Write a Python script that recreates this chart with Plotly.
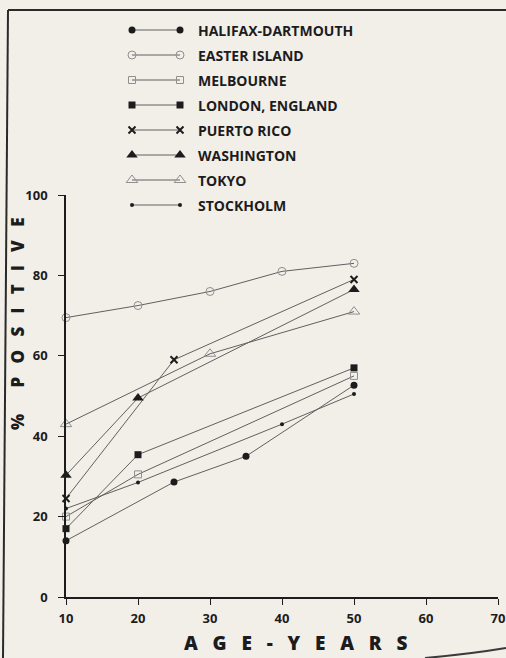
import plotly.graph_objects as go

# ---------------- data ----------------
series_names = ["HALIFAX-DARTMOUTH", "EASTER ISLAND", "MELBOURNE", "LONDON, ENGLAND",
                "PUERTO RICO", "WASHINGTON", "TOKYO", "STOCKHOLM"]

halifax_age = [10, 25, 35, 50]
halifax_pct = [14, 28.6, 35, 52.7]

easter_age = [10, 20, 30, 40, 50]
easter_pct = [69.5, 72.5, 76, 81, 83]

melbourne_age = [10, 20, 50]
melbourne_pct = [20, 30.5, 55]

london_age = [10, 20, 50]
london_pct = [17, 35.4, 57]

puerto_age = [10, 25, 50]
puerto_pct = [24.5, 59, 79]

washington_age = [10, 20, 50]
washington_pct = [30.3, 49.5, 76.5]

tokyo_age = [10, 30, 50]
tokyo_pct = [43, 60.5, 71]

stockholm_age = [10, 20, 40, 50]
stockholm_pct = [22, 28.5, 43, 50.5]

x_ticks = [10, 20, 30, 40, 50, 60, 70]
y_ticks = [0, 20, 40, 60, 80, 100]

# ---------------- styles ----------------
W, H = 506, 658
PAPER = "#f2efe9"
INK = "#1c1c1c"
LINE = "#606060"
OPEN_EDGE = "#8f8f8f"
FONT = "Open Sans"

styles = [
    dict(symbol="circle", size=7, color=INK, line=dict(width=0)),
    dict(symbol="circle-open", size=8, color=OPEN_EDGE, line=dict(width=1)),
    dict(symbol="square-open", size=7, color=OPEN_EDGE, line=dict(width=1)),
    dict(symbol="square", size=7, color=INK, line=dict(width=0)),
    dict(symbol="x-thin-open", size=7, color=INK, line=dict(width=2, color=INK)),
    dict(symbol="triangle-up", size=10, color=INK, line=dict(width=0)),
    dict(symbol="triangle-up-open", size=10, color=OPEN_EDGE, line=dict(width=1)),
    dict(symbol="circle", size=4, color=INK, line=dict(width=0)),
]

series = [
    (halifax_age, halifax_pct), (easter_age, easter_pct), (melbourne_age, melbourne_pct),
    (london_age, london_pct), (puerto_age, puerto_pct), (washington_age, washington_pct),
    (tokyo_age, tokyo_pct), (stockholm_age, stockholm_pct),
]

fig = go.Figure()

for name, (ages, pcts), st in zip(series_names, series, styles):
    fig.add_trace(go.Scatter(
        x=ages, y=pcts, mode="lines+markers", name=name,
        line=dict(color=LINE, width=1),
        marker=st, cliponaxis=False, showlegend=False,
        xaxis="x", yaxis="y",
    ))

# ---------------- hand-made legend (pixel overlay axes) ----------------
row0, row_step = 30, 25
key_left, key_right, text_x = 132, 180, 196
annotations = []
for i, (name, st) in enumerate(zip(series_names, styles)):
    ry = row0 + row_step * i
    fig.add_trace(go.Scatter(
        x=[key_left, key_right], y=[ry, ry], mode="lines+markers",
        line=dict(color=LINE, width=1), marker=st,
        cliponaxis=False, showlegend=False, hoverinfo="skip",
        xaxis="x2", yaxis="y2",
    ))
    annotations.append(dict(
        x=text_x, y=ry, xref="x2", yref="y2", text=name, showarrow=False,
        xanchor="left", yanchor="middle",
        font=dict(family=FONT, size=14, color=INK, weight=700),
    ))

NB = "\u00a0"
y_title = "%" + NB * 6 + (NB * 3).join(list("POSITIVE"))
x_title = (NB * 3).join(["A", "G", "E", "-", "Y", "E", "A", "R", "S"])

annotations.append(dict(
    x=17, y=324, xref="x2", yref="y2", text=y_title, textangle=-90,
    showarrow=False, xanchor="center", yanchor="middle",
    font=dict(family=FONT, size=17, color=INK, weight=800),
))
annotations.append(dict(
    x=295, y=643, xref="x2", yref="y2", text=x_title,
    showarrow=False, xanchor="center", yanchor="middle",
    font=dict(family=FONT, size=19, color=INK, weight=800),
))

# page frame lines of the scanned sheet
shapes = [
    dict(type="line", xref="x2", yref="y2", x0=8, y0=10, x1=3, y1=658,
         line=dict(color="#2a2a2a", width=2)),
    dict(type="line", xref="x2", yref="y2", x0=8, y0=10, x1=506, y1=10,
         line=dict(color="#2a2a2a", width=2)),
    dict(type="path", xref="x2", yref="y2", path="M 425 658 Q 470 654 506 648",
         line=dict(color="#3a3a3a", width=2)),
]

tickfont = dict(family=FONT, size=13, color=INK, weight=700)

fig.update_layout(
    width=W, height=H,
    margin=dict(l=0, r=0, t=0, b=0, autoexpand=False),
    paper_bgcolor=PAPER, plot_bgcolor="rgba(0,0,0,0)",
    showlegend=False,
    xaxis=dict(domain=[66 / W, 498 / W], range=[10, 70], tickvals=x_ticks,
               showline=True, linecolor=INK, linewidth=1.5, showgrid=False,
               zeroline=False, ticks="outside", ticklen=6, tickwidth=1,
               tickcolor=INK, tickfont=tickfont, anchor="y", ticklabelstandoff=3,
               automargin=False),
    yaxis=dict(domain=[(H - 597) / H, (H - 195) / H], range=[0, 100], tickvals=y_ticks,
               showline=True, linecolor=INK, linewidth=1.5, showgrid=False,
               zeroline=False, ticks="outside", ticklen=6, tickwidth=1,
               tickcolor=INK, tickfont=tickfont, anchor="x", ticklabelstandoff=8,
               automargin=False),
    xaxis2=dict(domain=[0, 1], range=[0, W], visible=False, anchor="y2",
                fixedrange=True, automargin=False),
    yaxis2=dict(domain=[0, 1], range=[H, 0], visible=False, anchor="x2",
                fixedrange=True, automargin=False),
    annotations=annotations,
    shapes=shapes,
)

fig.write_html(
    "out.html",
    config={"displayModeBar": False},
    post_script="document.body.style.margin='0';document.body.style.overflow='hidden';"
                "document.body.style.background='" + PAPER + "';",
)
